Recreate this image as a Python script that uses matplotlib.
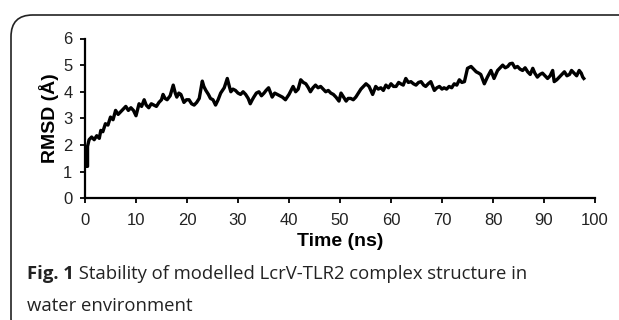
import matplotlib
matplotlib.use("Agg")
import matplotlib.pyplot as plt
from matplotlib.patches import FancyBboxPatch

# Time (ns) and RMSD (Å)
time_ns = [0.0, 0.5, 0.5, 0.8, 1.3, 1.8, 2.3, 2.8, 3.1, 3.5, 4.0, 4.5, 5.0, 5.5, 6.0,
           6.5, 7.0, 7.5, 8.0, 8.5, 9.0, 9.5, 10.0, 10.6, 11.1, 11.6, 12.0, 12.5, 13.0,
           13.5, 14.0, 14.5, 15.0, 15.3, 15.7, 16.1, 16.7, 17.3, 17.7, 18.0, 18.4, 18.8,
           19.4, 19.9, 20.4, 20.9, 21.4, 21.9, 22.4, 23.0, 23.3, 23.7, 24.2, 24.6, 25.1,
           25.6, 26.1, 26.6, 27.3, 27.9, 28.3, 28.6, 29.0, 29.5, 30.0, 30.5, 31.0, 31.5,
           32.0, 32.4, 32.8, 33.1, 33.6, 34.1, 34.6, 35.1, 35.5, 36.0, 36.4, 36.7, 37.2,
           37.7, 38.2, 38.7, 39.3, 40.0, 40.4, 40.8, 41.3, 41.8, 42.3, 42.8, 43.3, 43.8,
           44.2, 44.7, 45.2, 45.7, 46.2, 46.7, 47.2, 47.7, 48.2, 48.7, 49.2, 49.8, 50.2,
           50.7, 51.2, 51.6, 52.1, 52.6, 53.1, 53.6, 54.1, 54.6, 55.1, 55.7, 56.4, 57.0,
           57.5, 58.0, 58.5, 59.0, 59.5, 60.0, 60.5, 61.0, 61.5, 61.9, 62.4, 62.9, 63.4,
           63.9, 64.4, 64.9, 65.4, 65.9, 66.4, 66.8, 67.3, 67.8, 68.5, 69.0, 69.5, 70.0,
           70.4, 70.9, 71.4, 71.9, 72.4, 72.9, 73.4, 73.9, 74.4, 75.0, 75.7, 76.2, 76.7,
           77.2, 77.6, 78.3, 78.9, 79.6, 80.2, 80.9, 81.4, 81.9, 82.4, 82.9, 83.3, 83.8,
           84.3, 84.8, 85.3, 85.8, 86.3, 86.8, 87.3, 87.8, 88.2, 88.7, 89.2, 89.7, 90.2,
           90.7, 91.2, 91.7, 92.0, 92.5, 93.0, 93.5, 94.0, 94.5, 95.0, 95.4, 95.9, 96.4,
           96.9, 97.3, 97.6, 97.8]
rmsd_a = [1.2, 1.2, 1.95, 2.2, 2.3, 2.2, 2.35, 2.25, 2.55, 2.5, 2.8, 2.75, 3.05, 2.95, 3.3,
          3.15, 3.25, 3.35, 3.45, 3.3, 3.4, 3.3, 3.1, 3.55, 3.45, 3.7, 3.5, 3.4, 3.55,
          3.5, 3.45, 3.6, 3.7, 3.9, 3.75, 3.7, 3.85, 4.25, 3.95, 3.8, 3.95, 3.9,
          3.6, 3.7, 3.7, 3.55, 3.5, 3.6, 3.75, 4.4, 4.2, 4.05, 3.9, 3.75, 3.7,
          3.5, 3.7, 3.95, 4.15, 4.5, 4.2, 4.0, 4.1, 4.05, 3.95, 3.9, 4.0, 3.9,
          3.75, 3.55, 3.7, 3.8, 3.95, 4.0, 3.85, 3.95, 4.05, 4.15, 3.95, 3.8, 3.95,
          3.9, 3.85, 3.8, 3.7, 3.9, 4.05, 4.2, 4.0, 4.1, 4.45, 4.35, 4.3, 4.15,
          4.0, 4.15, 4.25, 4.15, 4.2, 4.1, 4.0, 4.05, 3.95, 3.9, 3.8, 3.65, 3.95,
          3.8, 3.65, 3.75, 3.75, 3.7, 3.8, 3.95, 4.1, 4.2, 4.3, 4.2, 3.9, 4.2,
          4.1, 4.15, 4.05, 4.25, 4.15, 4.3, 4.2, 4.2, 4.35, 4.3, 4.25, 4.5, 4.35,
          4.38, 4.3, 4.25, 4.35, 4.38, 4.25, 4.2, 4.3, 4.38, 4.05, 4.15, 4.2, 4.1,
          4.15, 4.1, 4.2, 4.15, 4.3, 4.25, 4.45, 4.35, 4.38, 4.88, 4.95, 4.85, 4.75,
          4.7, 4.65, 4.3, 4.55, 4.8, 4.5, 4.8, 4.9, 5.0, 4.9, 4.95, 5.05, 5.07,
          4.9, 4.95, 4.85, 4.8, 4.9, 4.75, 4.65, 4.88, 4.7, 4.55, 4.65, 4.7, 4.6,
          4.5, 4.6, 4.8, 4.38, 4.45, 4.55, 4.65, 4.75, 4.6, 4.65, 4.8, 4.7, 4.6,
          4.8, 4.7, 4.55, 4.5]

x_ticks = [0, 10, 20, 30, 40, 50, 60, 70, 80, 90, 100]
y_ticks = [0, 1, 2, 3, 4, 5, 6]

W, H = 619, 320
fig = plt.figure(figsize=(W / 100, H / 100), dpi=100)
fig.patch.set_facecolor("white")

# rounded frame around the figure (extends past right/bottom edges)
frame = FancyBboxPatch((11 / W, -20 / H), (W + 40) / W, (H - 15 + 20) / H,
                       boxstyle="round,pad=0,rounding_size=0.035",
                       transform=fig.transFigure, fill=False,
                       edgecolor="#222222", linewidth=1.2, mutation_aspect=W / H)
fig.patches.append(frame)

ax = fig.add_axes([85 / W, 1 - 198.3 / H, (595 - 85) / W, (198.3 - 38.5) / H])
ax.plot(time_ns, rmsd_a, color="black", linewidth=2.4, solid_joinstyle="round")

ax.set_xlim(0, 100)
ax.set_ylim(0, 6)
ax.set_xticks(x_ticks)
ax.set_yticks(y_ticks)
for s in ["top", "right"]:
    ax.spines[s].set_visible(False)
for s in ["left", "bottom"]:
    ax.spines[s].set_linewidth(1.6)
    ax.spines[s].set_color("black")
ax.tick_params(direction="out", length=3.5, width=1.3, pad=5.5,
               labelsize=12, labelcolor="#222222")
ax.tick_params(axis="x", pad=7)
for lab in ax.get_xticklabels() + ax.get_yticklabels():
    lab.set_family("Liberation Sans")

ax.set_xlabel("Time (ns)", fontsize=14, fontweight="bold",
              family="Liberation Sans", labelpad=4)
ax.set_ylabel("RMSD (Å)", fontsize=14, fontweight="bold",
              family="Liberation Sans", labelpad=3)

# caption
t1 = fig.text(27 / W, 1 - 279 / H, "Fig. 1", fontsize=13.3, fontweight="bold",
              family="Open Sans", color="#222222", va="baseline")
fig.canvas.draw()
ax.annotate(" Stability of modelled LcrV-TLR2 complex structure in",
            xy=(1, 0), xycoords=t1, ha="left", va="bottom",
            fontsize=13.3, family="Open Sans", color="#222222",
            annotation_clip=False)
fig.text(27 / W, 1 - 311 / H, "water environment", fontsize=13.3,
         family="Open Sans", color="#222222", va="baseline")

fig.savefig("out.png", dpi=100)
